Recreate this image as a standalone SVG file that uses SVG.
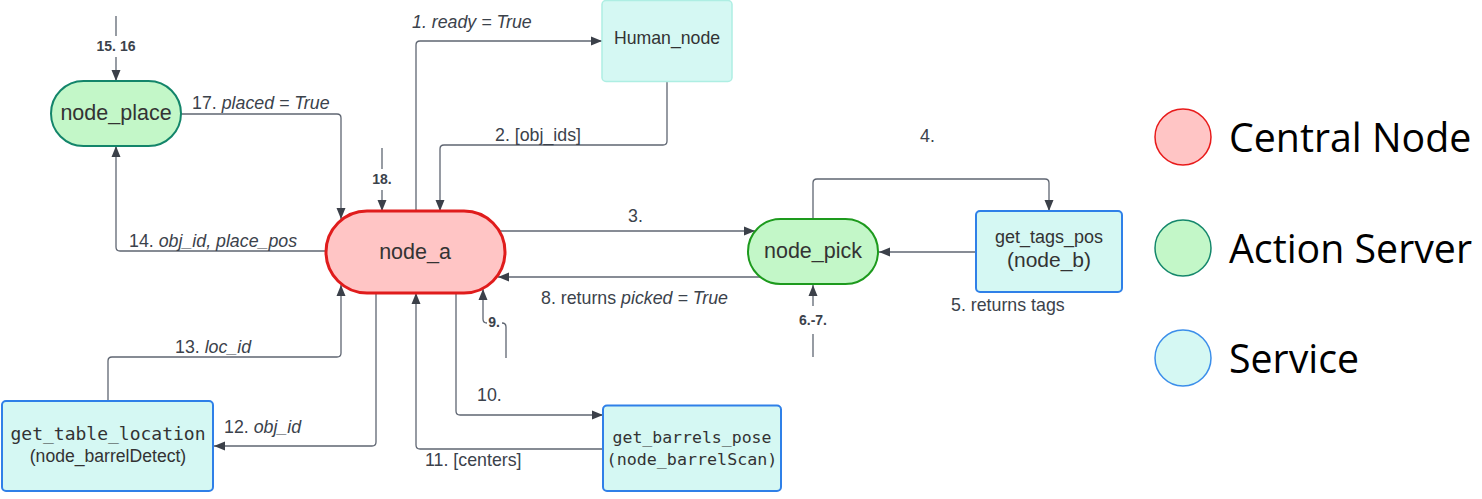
<svg xmlns="http://www.w3.org/2000/svg" width="1482" height="499" viewBox="0 0 1482 499">
<defs>
<marker id="arr" markerUnits="userSpaceOnUse" markerWidth="12" markerHeight="12" viewBox="0 0 12 12" refX="11" refY="6" orient="auto">
<path d="M0,1.5 L11,6 L0,10.5 Z" fill="#3b4049"/>
</marker>
<style>
.c{fill:none;stroke:#5f6672;stroke-width:1.3}
.ca{fill:none;stroke:#5f6672;stroke-width:1.3;marker-end:url(#arr)}
.lb{font-family:"Liberation Sans",Arial,sans-serif;font-size:17.8px;fill:#3b424b}
.bd{font-family:"Liberation Sans",Arial,sans-serif;font-size:14px;font-weight:bold;fill:#3b424b;text-anchor:middle}
.it{font-style:italic}
.nt{font-family:"Liberation Sans",Arial,sans-serif;fill:#333;text-anchor:middle}
.mono{font-family:"DejaVu Sans Mono",monospace;fill:#333;text-anchor:middle}
.act{fill:#c3f7c8;stroke-width:2}
.srv{fill:#d5f8f3;stroke:#2f80e8;stroke-width:2}
.lg{font-family:"Open Sans",sans-serif;font-size:39.3px;fill:#000}
</style>
</defs>
<g id="connectors">
<path class="ca" d="M416,211 V45 Q416,41 420,41 H602"/>
<path class="ca" d="M667,81 V141 Q667,145 663,145 H444 Q440,145 440,149 V211"/>
<path class="ca" d="M181,114 H337 Q341,114 341,118 V219"/>
<path class="c" d="M382,148 V169"/>
<path class="ca" d="M382,190 V211"/>
<path class="c" d="M116,16 V36"/>
<path class="ca" d="M116,57 V81"/>
<path class="ca" d="M326,251 H120 Q116,251 116,247 V146"/>
<path class="ca" d="M500,231 H755"/>
<path class="ca" d="M760,277 H498"/>
<path class="ca" d="M813,219 V183 Q813,179 817,179 H1045 Q1049,179 1049,183 V211"/>
<path class="ca" d="M976,252 H879"/>
<path class="c" d="M813,357 V334"/>
<path class="ca" d="M813,306 V285"/>
<path class="c" d="M506,358 V327 Q506,323 502,323"/>
<path class="ca" d="M487,323 Q483,323 483,319 V289"/>
<path class="ca" d="M456,293 V411 Q456,415 460,415 H603"/>
<path class="ca" d="M603,449 H420 Q416,449 416,445 V293"/>
<path class="ca" d="M376,293 V442 Q376,446 372,446 H214"/>
<path class="ca" d="M108,401 V361 Q108,357 112,357 H337 Q341,357 341,353 V285"/>
<text class="lb it" x="412" y="28">1. ready = True</text>
<text class="lb" x="495" y="141">2. [obj_ids]</text>
<text class="lb" x="192" y="109">17. <tspan class="it">placed = True</tspan></text>
<text class="bd" x="116" y="51">15. 16</text>
<text class="bd" x="382" y="184">18.</text>
<text class="lb" x="129" y="247">14. <tspan class="it">obj_id, place_pos</tspan></text>
<text class="lb" x="628" y="222">3.</text>
<text class="lb" x="541" y="304">8. returns <tspan class="it">picked = True</tspan></text>
<text class="lb" x="920" y="142">4.</text>
<text class="lb" x="951" y="311">5. returns tags</text>
<text class="bd" x="813" y="325">6.-7.</text>
<text class="bd" x="494" y="327">9.</text>
<text class="lb" x="477" y="401">10.</text>
<text class="lb" x="425" y="466">11. [centers]</text>
<text class="lb" x="224" y="433">12. <tspan class="it">obj_id</tspan></text>
<text class="lb" x="175" y="353">13. <tspan class="it">loc_id</tspan></text>
</g>
<g id="node_a">
<rect x="326" y="211" width="179" height="82" rx="41" fill="#ffc5c5" stroke="#e01c1c" stroke-width="3"/>
<text class="nt" x="415" y="259" font-size="21.5">node_a</text>
</g>
<g id="node_place">
<rect x="51" y="81" width="130" height="65" rx="32.5" class="act" stroke="#13856a"/>
<text class="nt" x="116" y="120" font-size="21.5">node_place</text>
</g>
<g id="node_pick">
<rect x="748" y="219" width="130" height="65" rx="32.5" class="act" stroke="#1d9a1d"/>
<text class="nt" x="813" y="258" font-size="21.5">node_pick</text>
</g>
<g id="Human_node">
<rect x="602" y="0.5" width="130" height="81" rx="4" fill="#d5f8f3" stroke="#aeeee3" stroke-width="1.5"/>
<text class="nt" x="667" y="44" font-size="17.7">Human_node</text>
</g>
<g id="get_tags_pos">
<rect x="976" y="211" width="146" height="81" rx="4" class="srv"/>
<text class="nt" x="1049" y="243" font-size="18">get_tags_pos</text>
<text class="nt" x="1049" y="267" font-size="21">(node_b)</text>
</g>
<g id="get_table_location">
<rect x="2" y="401" width="211" height="90" rx="4" class="srv"/>
<text class="mono" x="108" y="440" font-size="18">get_table_location</text>
<text class="nt" x="108" y="462" font-size="17.6">(node_barrelDetect)</text>
</g>
<g id="get_barrels_pose">
<rect x="603" y="405.5" width="178" height="85.5" rx="4" class="srv"/>
<text class="mono" x="692" y="443" font-size="16.5">get_barrels_pose</text>
<text class="mono" x="692" y="465" font-size="16.7">(node_barrelScan)</text>
</g>
<g id="legend">
<circle cx="1183" cy="137" r="28" fill="#ffc5c5" stroke="#e81a1a" stroke-width="1.5"/>
<circle cx="1183" cy="248" r="28" fill="#c3f7c8" stroke="#14876b" stroke-width="1.5"/>
<circle cx="1183" cy="358" r="28" fill="#d5f8f3" stroke="#3b8eea" stroke-width="1.5"/>
<text class="lg" x="1229" y="152">Central Node</text>
<text class="lg" x="1229" y="263">Action Server</text>
<text class="lg" x="1229" y="373">Service</text>
</g>
</svg>
